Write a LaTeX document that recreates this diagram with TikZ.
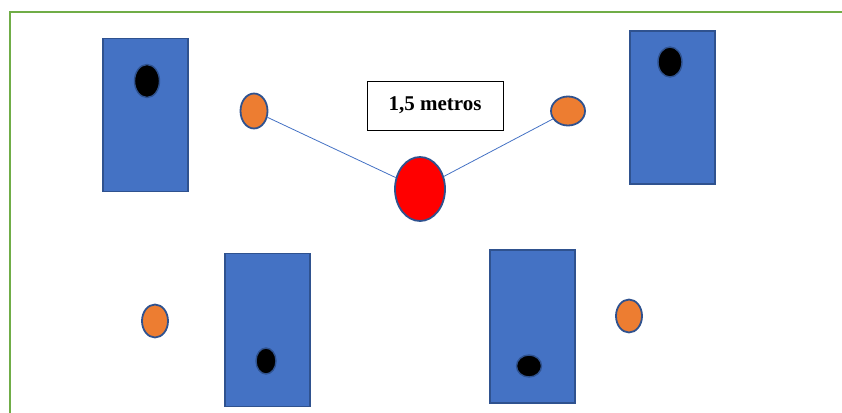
\documentclass[tikz,border=0pt]{standalone}
\usepackage{fontspec}
\setmainfont{Liberation Serif}
\usepackage{xcolor}
\usetikzlibrary{shapes.geometric,positioning}
\definecolor{deskblue}{HTML}{4472C4}
\definecolor{edgeblue}{HTML}{2F528F}
\definecolor{seatorange}{HTML}{ED7D31}
\definecolor{framegreen}{HTML}{70AD47}
\tikzset{
  desk/.style={draw=edgeblue, fill=deskblue, line width=1.4pt, minimum width=85pt, minimum height=153pt, inner sep=0pt},
  hole/.style={ellipse, draw=edgeblue, fill=black, line width=1.4pt, inner sep=0pt},
  seat/.style={ellipse, draw=edgeblue, fill=seatorange, line width=1.8pt, minimum width=26pt, minimum height=33pt, inner sep=0pt},
  label/.style={draw=black, fill=white, line width=0.8pt, minimum width=136pt, minimum height=49pt, font=\fontsize{21}{25}\selectfont\bfseries}
}
\begin{document}
\begin{tikzpicture}[x=1pt,y=-1pt]
              \useasboundingbox (0,0) rectangle (842,412);
              \draw[framegreen, line width=2.5pt] (10,12) rectangle (860,430);

              \node[desk] at (145.5,115) (d1) {};
              \node[desk] at (672.5,107.5) (d2) {};
              \node[desk] at (267.5,330) (d3) {};
              \node[desk] at (532.5,326.5) (d4) {};
              \node[hole, minimum width=25pt, minimum height=33pt] at (147,81) (h1) {};
              \node[hole, minimum width=24pt, minimum height=30pt] at (670,62) (h2) {};
              \node[hole, minimum width=20pt, minimum height=26pt] at (266,361) (h3) {};
              \node[hole, minimum width=25pt, minimum height=22pt] at (529,366) (h4) {};

              \node[seat, minimum width=27pt, minimum height=35pt] at (254,111) (s1) {};
              \node[seat, minimum width=34pt, minimum height=29pt] at (568,111) (s2) {};
              \node[seat] at (155,321) (s3) {};
              \node[seat] at (629,316) (s4) {};
              \node[ellipse, draw=edgeblue, fill=red, line width=1.8pt, minimum width=50pt, minimum height=64pt, inner sep=0pt] at (420,189) (r) {};

              \node[label] at (435,105.5) (m) {1,5 metros};

              \draw[deskblue, line width=0.8pt] (s1)--(r);
              \draw[deskblue, line width=0.8pt] (s2)--(r);
            \end{tikzpicture}
\end{document}
